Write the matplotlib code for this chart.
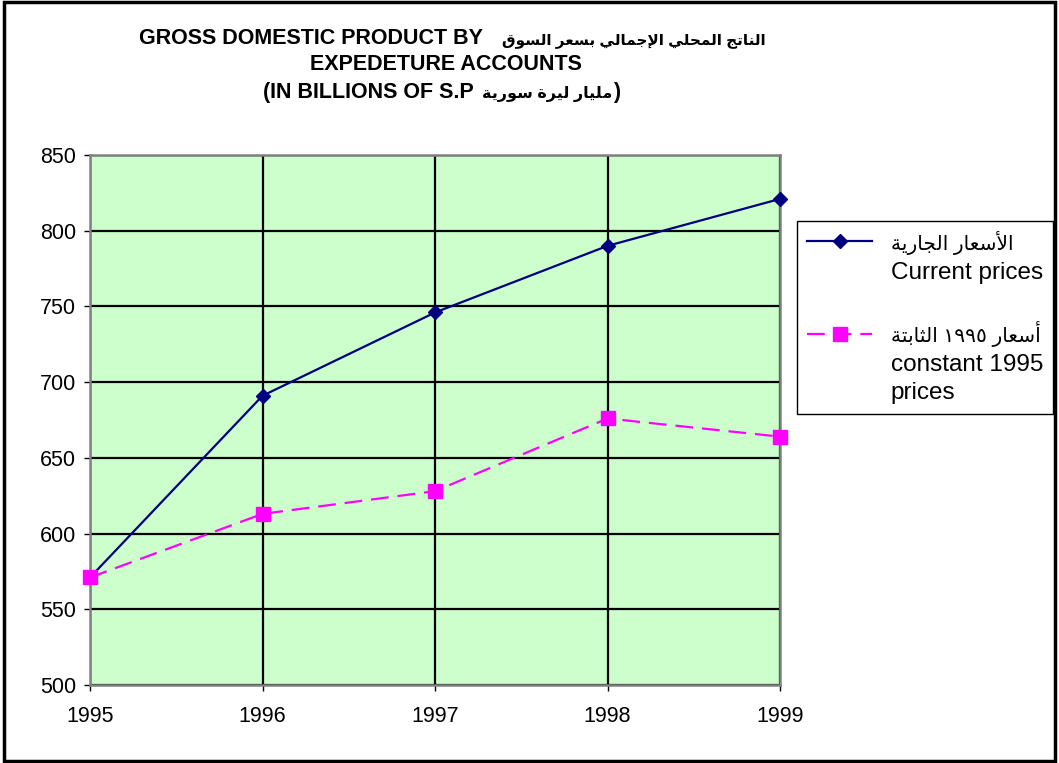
import re
import matplotlib
matplotlib.use("Agg")
import matplotlib.pyplot as plt
from matplotlib.lines import Line2D
from matplotlib.patches import Rectangle

plt.rcParams['font.family'] = ['Liberation Sans', 'DejaVu Sans']

# ---------------- data ----------------
years = [1995, 1996, 1997, 1998, 1999]
current_prices = [571, 691, 746, 790, 821]
constant_prices = [571, 613, 628, 676, 664]
y_ticks = [500, 550, 600, 650, 700, 750, 800, 850]

title_en_1 = "GROSS DOMESTIC PRODUCT BY"
title_ar_1 = "الناتج المحلي الإجمالي بسعر السوق"
title_en_2 = "EXPEDETURE ACCOUNTS"
title_en_3 = "(IN BILLIONS OF S.P"
title_ar_3 = "مليار ليرة سورية"
label_cur_ar = "الأسعار الجارية"
label_cur_en = "Current prices"
label_con_ar = "أسعار ١٩٩٥ الثابتة"
label_con_en = "constant 1995\nprices"

# ---------------- minimal Arabic shaping (presentation forms) ----------------
FORMS = {
    '\u0627': ('\uFE8D', '\uFE8E'),
    '\u0623': ('\uFE83', '\uFE84'),
    '\u0625': ('\uFE87', '\uFE88'),
    '\u0628': ('\uFE8F', '\uFE90', '\uFE91', '\uFE92'),
    '\u0629': ('\uFE93', '\uFE94'),
    '\u062A': ('\uFE95', '\uFE96', '\uFE97', '\uFE98'),
    '\u062B': ('\uFE99', '\uFE9A', '\uFE9B', '\uFE9C'),
    '\u062C': ('\uFE9D', '\uFE9E', '\uFE9F', '\uFEA0'),
    '\u062D': ('\uFEA1', '\uFEA2', '\uFEA3', '\uFEA4'),
    '\u0631': ('\uFEAD', '\uFEAE'),
    '\u0633': ('\uFEB1', '\uFEB2', '\uFEB3', '\uFEB4'),
    '\u0639': ('\uFEC9', '\uFECA', '\uFECB', '\uFECC'),
    '\u0642': ('\uFED5', '\uFED6', '\uFED7', '\uFED8'),
    '\u0644': ('\uFEDD', '\uFEDE', '\uFEDF', '\uFEE0'),
    '\u0645': ('\uFEE1', '\uFEE2', '\uFEE3', '\uFEE4'),
    '\u0646': ('\uFEE5', '\uFEE6', '\uFEE7', '\uFEE8'),
    '\u0648': ('\uFEED', '\uFEEE'),
    '\u064A': ('\uFEF1', '\uFEF2', '\uFEF3', '\uFEF4'),
}
LAMALEF = {'\u0627': ('\uFEFB', '\uFEFC'),
           '\u0623': ('\uFEF7', '\uFEF8'),
           '\u0625': ('\uFEF9', '\uFEFA')}


def shape_arabic(text):
    toks = []
    i = 0
    while i < len(text):
        c = text[i]
        if c == '\u0644' and i + 1 < len(text) and text[i + 1] in LAMALEF:
            toks.append(('LA', text[i + 1]))
            i += 2
        else:
            toks.append(('C', c))
            i += 1

    def is_letter(t):
        return t[0] == 'LA' or t[1] in FORMS

    def dual(t):
        return t[0] == 'C' and t[1] in FORMS and len(FORMS[t[1]]) == 4

    out = []
    for k, t in enumerate(toks):
        prev = toks[k - 1] if k > 0 else None
        nxt = toks[k + 1] if k + 1 < len(toks) else None
        jp = prev is not None and dual(prev) and is_letter(t)
        if t[0] == 'LA':
            out.append(LAMALEF[t[1]][1 if jp else 0])
            continue
        c = t[1]
        if c not in FORMS:
            out.append(c)
            continue
        f = FORMS[c]
        jn = len(f) == 4 and nxt is not None and is_letter(nxt)
        if jp and jn:
            out.append(f[3])
        elif jp:
            out.append(f[1])
        elif jn:
            out.append(f[2])
        else:
            out.append(f[0])
    s = ''.join(out)[::-1]
    return re.sub(r'[\u0660-\u06690-9]+', lambda m: m.group(0)[::-1], s)


# ---------------- figure ----------------
W, H = 1059, 763
fig = plt.figure(figsize=(W / 100, H / 100), dpi=100)
fig.patch.set_facecolor('white')

ax = fig.add_axes([90 / W, 1 - 685 / H, 690 / W, 530 / H])
ax.set_facecolor('#CCFFCC')

ax.plot(years, current_prices, color='#000080', lw=1.6, marker='D', ms=7.5,
        mfc='#000080', mec='#000080', zorder=5, clip_on=False)
ax.plot(years, constant_prices, color='#FF00FF', lw=1.6, ls=(0, (8, 4)),
        marker='s', ms=9.5, mfc='#FF00FF', mec='#FF00FF', zorder=5, clip_on=False)

ax.set_xlim(years[0], years[-1])
ax.set_ylim(y_ticks[0], y_ticks[-1])
ax.set_xticks(years)
ax.set_xticklabels([str(y) for y in years])
ax.set_yticks(y_ticks)
ax.grid(True, color='black', lw=1.6, zorder=1)
ax.set_axisbelow(True)
for sp in ax.spines.values():
    sp.set_color('#808080')
    sp.set_linewidth(1.8)
ax.tick_params(axis='both', direction='out', length=4, width=1, color='black',
               labelsize=15.5, labelcolor='black')
ax.tick_params(axis='y', pad=6)
ax.tick_params(axis='x', pad=11)


# title (pieces placed separately: English in Liberation Sans, Arabic in DejaVu)
def fx(px):
    return px / W


def fy(py):
    return 1 - py / H


tkw = dict(fontweight='bold', va='baseline')
fig.text(fx(311), fy(44), title_en_1, ha='center', fontsize=15.5, **tkw)
fig.text(fx(634), fy(44), shape_arabic(title_ar_1), ha='center', fontsize=11, **tkw)
fig.text(fx(446), fy(70), title_en_2, ha='center', fontsize=15.5, **tkw)
fig.text(fx(368), fy(98), title_en_3, ha='center', fontsize=15.5, **tkw)
fig.text(fx(612), fy(98), shape_arabic(title_ar_3), ha='right', fontsize=11.5, **tkw)
fig.text(fx(613), fy(98), ")", ha='left', fontsize=15.5, **tkw)

# legend
handles = [
    Line2D([], [], color='#000080', lw=1.6, marker='D', ms=7.5,
           mfc='#000080', mec='#000080'),
    Line2D([], [], alpha=0),
    Line2D([], [], alpha=0),
    Line2D([], [], color='#FF00FF', lw=1.6, ls=(0, (8, 4)), marker='s', ms=9.5,
           mfc='#FF00FF', mec='#FF00FF'),
    Line2D([], [], alpha=0),
]
labels = [shape_arabic(label_cur_ar), label_cur_en, " ",
          shape_arabic(label_con_ar), label_con_en]
leg = fig.legend(handles, labels, loc='upper left',
                 bbox_to_anchor=(797 / W, 1 - 221 / H),
                 bbox_transform=fig.transFigure,
                 fontsize=17.5, handlelength=2.7, handletextpad=0.75,
                 labelspacing=0.28, borderpad=0.4, borderaxespad=0,
                 fancybox=False, framealpha=1, edgecolor='black')
leg.get_frame().set_linewidth(1.0)
lt = leg.get_texts()
lt[0].set_fontsize(14.5)
lt[3].set_fontsize(14.5)
lt[2].set_fontsize(19)
lt[4].set_linespacing(1.35)

# outer border
fig.patches.append(Rectangle((4 / W, 2 / H), 1 - 8 / W, 1 - 4 / H,
                             transform=fig.transFigure, fill=False,
                             edgecolor='black', lw=2.5))

fig.savefig('out.png', dpi=100, facecolor='white')
